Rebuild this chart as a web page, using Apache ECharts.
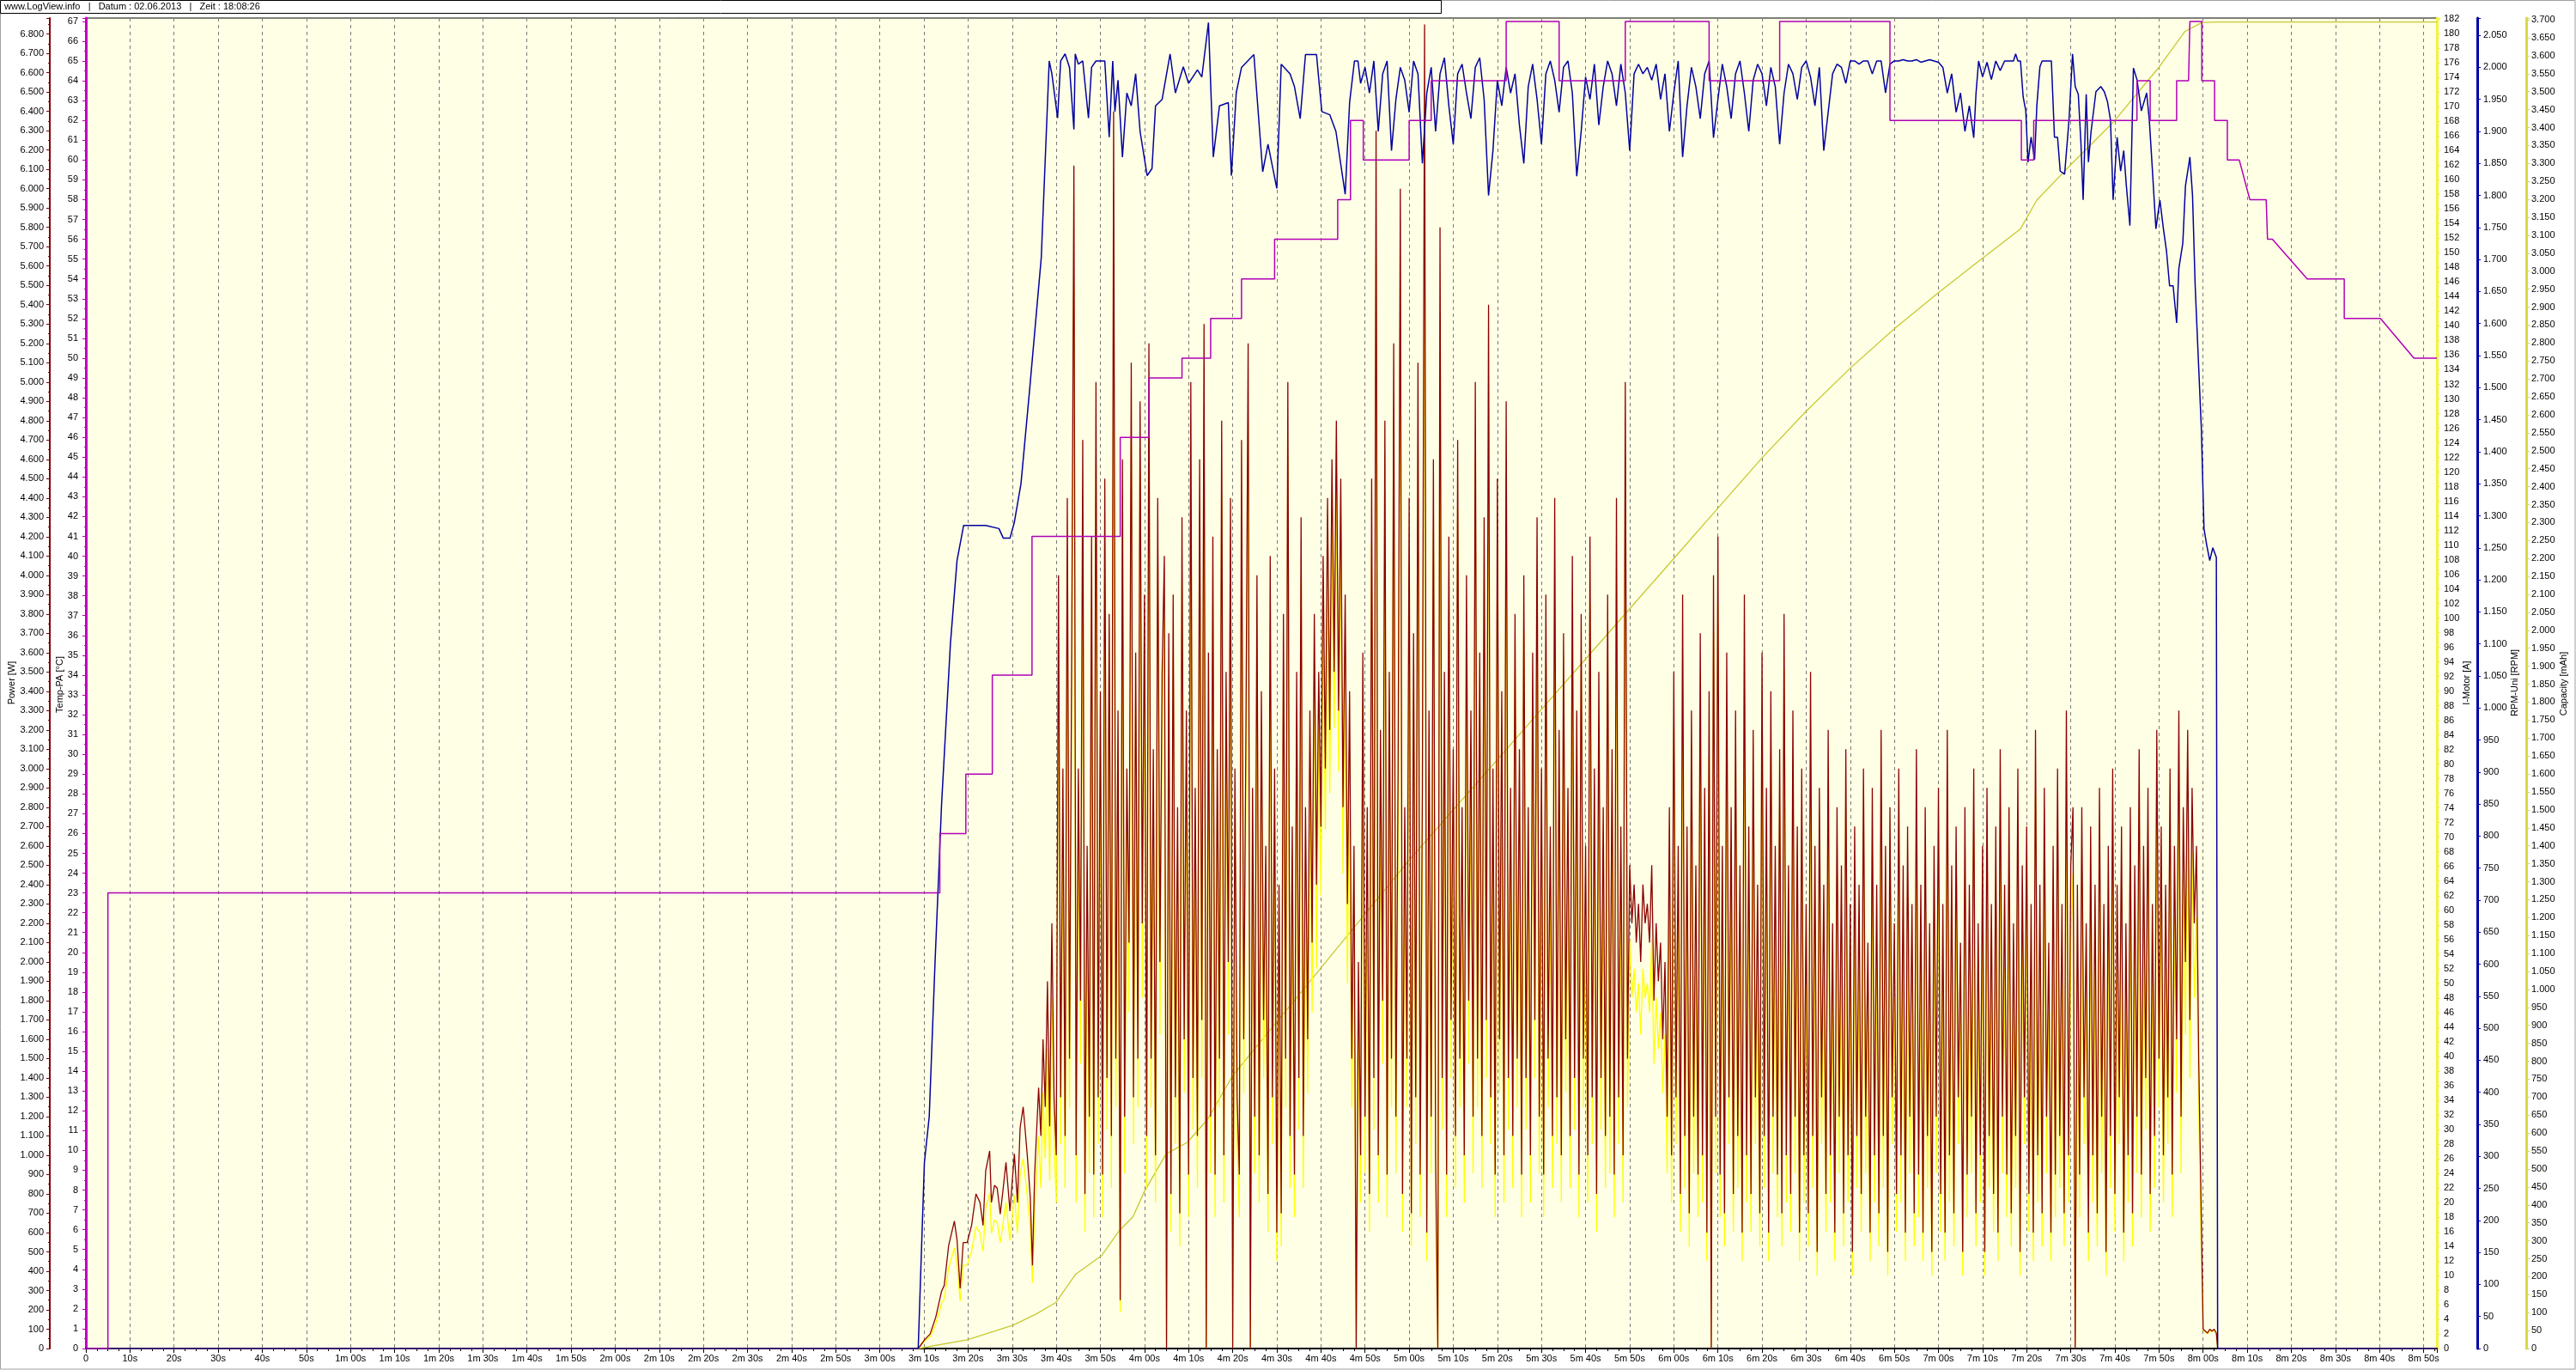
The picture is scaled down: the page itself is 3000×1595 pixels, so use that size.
<!DOCTYPE html>
<html><head><meta charset="utf-8">
<script src="https://cdn.jsdelivr.net/npm/echarts@6/dist/echarts.min.js"></script>
<style>html,body{margin:0;padding:0;background:#fff}#c{width:3000px;height:1595px}</style>
</head><body><div id="c"></div>
<script>
// ---------- DATA (time in seconds) ----------
const xTickLabels = ['0','10s','20s','30s','40s','50s','1m 00s','1m 10s','1m 20s','1m 30s','1m 40s','1m 50s','2m 00s','2m 10s','2m 20s','2m 30s','2m 40s','2m 50s','3m 00s','3m 10s','3m 20s','3m 30s','3m 40s','3m 50s','4m 00s','4m 10s','4m 20s','4m 30s','4m 40s','4m 50s','5m 00s','5m 10s','5m 20s','5m 30s','5m 40s','5m 50s','6m 00s','6m 10s','6m 20s','6m 30s','6m 40s','6m 50s','7m 00s','7m 10s','7m 20s','7m 30s','7m 40s','7m 50s','8m 00s','8m 10s','8m 20s','8m 30s','8m 40s','8m 50s'];

// start-up phase, [time s, value]
const powerStart = [[0,0],[188.7,0],[190.1,44],[191.4,75],[192.7,164],[194,297],[194.6,326],[195.6,533],[196.9,659],[197.5,563],[198.2,311],[198.9,548],[199.8,548],[200.8,637],[201.8,800],[202.7,756],[203.4,637],[204,919],[204.9,1022],[205.3,756],[206,844],[206.6,830],[207.3,696],[207.9,815],[208.6,963],[209.5,711],[210.5,1007],[211.2,756],[211.8,1141],[212.5,1250],[213.4,1007],[214.1,785],[214.6,430],[215.1,904]];
const currentStart = [[0,0],[188.7,0],[190.1,1],[191.4,1.6],[192.7,3.4],[194,6.2],[194.6,6.8],[195.6,11],[196.9,13.8],[197.5,11.7],[198.2,6.5],[198.9,11.4],[199.8,11.4],[200.8,13.3],[201.8,16.7],[202.7,15.8],[203.4,13.3],[204,19.2],[204.9,21.3],[205.3,15.8],[206,17.6],[206.6,17.3],[207.3,14.5],[207.9,17],[208.6,20],[209.5,14.8],[210.5,21],[211.2,15.8],[211.8,23.8],[212.5,26],[213.4,21],[214.1,16.4],[214.6,9],[215.1,18.8]];

// flight phase: samples every 0.5 s from 216.0 s to 483.0 s
const sampleStart = 216.0, sampleStep = 0.5;
const powerW = [
1350,1100,1600,1250,1900,1150,2200,1300,1000,4000,1300,3000,1100,4400,1500,3600,6120,1000,3000,1800,
4700,800,2600,1200,4200,900,5000,1300,3400,900,4500,1400,3800,1100,6400,1500,3300,250,4600,1200,
3000,2100,5100,1300,3600,1500,4900,2200,3900,1100,5200,1500,3100,1000,4400,2000,3500,4100,0,3700,
800,3900,1300,2800,700,4300,1600,3300,900,5000,1400,2900,1100,4600,1700,5300,0,3600,1200,4200,
900,3100,1500,4800,1000,3500,2000,4400,0,3000,1300,900,4700,1600,3200,5200,0,2900,1200,4000,
1000,3400,1700,2600,800,4100,1300,3000,600,2400,700,3800,1500,5000,1100,2700,900,3500,1400,4300,
1100,2800,1600,3300,2100,3800,2400,3500,2700,4100,3000,4400,3200,4600,3500,4800,3300,4500,2800,3900,
2300,3400,1500,2600,0,2000,1000,3600,1200,2800,800,4500,1400,6300,1000,3200,1800,4800,900,3500,
1500,5200,1200,3000,6000,800,2800,1500,4400,700,3700,1300,5100,900,2900,6850,600,3300,1200,4600,
1000,0,5800,1400,3500,900,4200,1700,3100,1100,4700,1500,2800,1000,4000,1800,3300,1200,5000,1500,
3600,1100,4300,1700,5400,1300,3000,900,4500,1600,3400,1000,4900,1400,2900,1100,3800,1500,3100,900,
4000,1400,2800,1000,3600,1700,4300,1200,3000,900,3900,1500,2700,1100,4400,1300,3200,1000,3700,1600,
2900,1100,4100,1400,3300,900,3800,1500,2600,1000,4200,1300,3000,800,3500,1400,2800,1100,3900,1200,
3100,900,4400,1300,2700,1000,5000,1500,2500,2200,2400,2100,2300,2000,2400,2200,2300,2100,2500,1800,
2200,1900,2100,1600,2000,1200,2800,1000,3500,1300,2600,800,3900,1100,2700,700,3300,1200,2500,900,
3700,1000,2900,600,3400,0,4000,1200,4200,900,2600,700,3600,1300,2800,800,3300,1100,2500,600,
3900,1000,2700,800,3200,1300,2400,700,3600,1100,2900,600,3400,1200,2600,900,3100,700,3800,1000,
2500,800,3300,1200,2700,600,3000,1000,2300,700,3500,1100,2600,500,2900,1300,2400,800,3200,1000,
2200,600,2800,1200,2500,700,3100,1000,2300,500,2700,1100,2400,800,3000,1200,2100,600,2900,1000,
2400,700,3200,1100,2600,500,2800,1300,2200,800,3000,1000,2500,600,2700,1200,2300,700,3100,900,
2400,600,2800,1100,2200,500,2600,1200,2900,800,2300,600,3200,1000,2500,700,2700,1300,2100,500,
2800,900,2400,1200,3000,700,2200,1000,2600,500,2900,1100,2300,800,2700,600,3100,1200,2400,900,
2800,700,2200,1100,3000,500,2500,1300,2700,800,2300,600,3200,1000,2400,700,2900,1200,2100,600,
2600,900,3000,1100,2300,700,3300,1000,2500,2800,0,2400,900,2800,1300,2200,600,2700,1000,2400,
700,2900,1200,2300,500,2600,1100,3000,800,2400,1300,2700,600,2200,1000,2800,700,2500,1200,3100,
900,2600,1400,2900,800,2300,1100,3200,1500,2700,1000,2400,1300,3000,900,2600,1600,3300,1200,2800,
2000,3200,1700,2900,2200,2600,1500,800,100,90,80,100,90,100,80];
const currentA = [
29,22,35,26,41,23,48,28,20,98,28,71,22,107,33,88,146,20,71,39,
115,16,59,24,102,18,122,28,81,18,110,30,93,22,146,33,79,5,112,24,
71,46,124,28,88,33,120,48,95,22,127,33,74,20,107,43,85,100,0,90,
16,95,28,65,14,105,35,79,18,122,30,68,22,112,37,129,0,88,24,102,
18,74,33,117,20,85,43,107,0,71,28,18,115,35,76,127,0,68,24,98,
20,81,37,59,16,100,28,71,12,52,14,93,33,122,22,62,18,85,30,105,
22,65,35,79,46,93,52,85,62,100,71,107,76,112,85,117,79,110,65,95,
50,81,33,59,0,43,20,88,24,65,16,110,30,150,20,76,39,117,18,85,
33,127,24,71,146,16,65,33,107,14,90,28,124,18,68,163,12,79,24,112,
20,0,141,30,85,18,102,37,74,22,115,33,65,20,98,39,79,24,122,33,
88,22,105,37,132,28,71,18,110,35,81,20,120,30,68,22,93,33,74,18,
98,30,65,20,88,37,105,24,71,18,95,33,62,22,107,28,76,20,90,35,
68,22,100,30,79,18,93,33,59,20,102,28,71,16,85,30,65,22,95,24,
74,18,107,28,62,20,122,33,56,48,52,46,50,43,52,48,50,46,56,39,
48,41,46,35,43,24,65,20,85,28,59,16,95,22,62,14,79,24,56,18,
90,20,68,12,81,0,98,24,102,18,59,14,88,28,65,16,79,22,56,12,
95,20,62,16,76,28,52,14,88,22,68,12,81,24,59,18,74,14,93,20,
56,16,79,24,62,12,71,20,50,14,85,22,59,10,68,28,52,16,76,20,
48,12,65,24,56,14,74,20,50,10,62,22,52,16,71,24,46,12,68,20,
52,14,76,22,59,10,65,28,48,16,71,20,56,12,62,24,50,14,74,18,
52,12,65,22,48,10,59,24,68,16,50,12,76,20,56,14,62,28,46,10,
65,18,52,24,71,14,48,20,59,10,68,22,50,16,62,12,74,24,52,18,
65,14,48,22,71,10,56,28,62,16,50,12,76,20,52,14,68,24,46,12,
59,18,71,22,50,14,79,20,56,65,0,52,18,65,28,48,12,62,20,52,
14,68,24,50,10,59,22,71,16,52,28,62,12,48,20,65,14,56,24,74,
18,59,30,68,16,50,22,76,33,62,20,52,28,71,18,59,35,79,24,65,
43,76,37,68,48,59,33,16,2.5,2.3,2,2.5,2.3,2.5,2];
const powerEnd = [[483.3,0],[533,0]];
const currentEnd = [[483.3,0],[533,0]];

const tempData = [[0,0],[5,0],[5,23],[193.6,23],[193.6,26],[199.5,26],[199.5,29],[205.5,29],[205.5,34],[214.5,34],[214.5,41],[234.5,41],[234.5,46],[241,46],[241,49],[248.5,49],[248.5,50],[255,50],[255,52],[262,52],[262,54],[269.5,54],[269.5,56],[283.8,56],[283.8,58],[286.7,58],[286.7,62],[289.6,62],[289.6,60],[300,60],[300,62],[305,62],[305,64],[322,64],[322,67],[334,67],[334,64],[349,64],[349,67],[368,67],[368,64],[384,64],[384,67],[409,67],[409,62],[438.8,62],[438.8,60],[441.6,60],[441.6,62],[465,62],[465,64],[468,64],[468,62],[474,62],[474,64],[476.7,64],[477,67],[479.7,67],[479.7,64],[482.6,64],[482.6,62],[485.5,62],[485.5,60],[488.2,60],[490.6,58],[494.3,58],[494.6,56],[495.7,56],[503.6,54],[512,54],[512,52],[520.2,52],[527.8,50],[533,50]];

const rpmData = [[0,0],[188.7,0],[190.1,290],[191.2,362],[192.5,600],[194,850],[196,1100],[197.5,1230],[199,1285],[204,1285],[207,1280],[208,1265],[209.5,1265],[210.5,1290],[212,1350],[214,1500],[216.6,1703],[218.4,2010],[219,1990],[220.3,1921],[221,2010],[222,2021],[223,2000],[224,1903],[224.3,2021],[225,2005],[226,2010],[227.3,1921],[228,2000],[229,2010],[231,2010],[232,1891],[232.8,2010],[233.3,1931],[234,1980],[235,1860],[236,1960],[237,1940],[238,1990],[239,1900],[240.6,1831],[241.7,1842],[242.5,1940],[244,1950],[245.8,2021],[247,1960],[248.8,2001],[250,1975],[252,1996],[253,1985],[254.5,2070],[255.6,1860],[257,1940],[259,1945],[259.7,1831],[260.8,1960],[262,2000],[264.8,2020],[266.8,1837],[268,1880],[270,1811],[271,2005],[273,1990],[274,1970],[275.3,1920],[276.5,2020],[279,2020],[279.6,1975],[280.2,1931],[282,1926],[283.4,1900],[285.5,1802],[286.5,1945],[287.6,2010],[288.4,2010],[289,1975],
[290,2000],[291,1960],[292,2010],[293,1900],[294,1990],[295,2010],[296,1870],[297,1950],[298,2000],[299,1980],[300,1930],[301,2010],[302,1990],[303,1850],[304,1960],[305,2000],[306,1900],[307,1990],[308,2015],[309,1940],[310,1880],[311,1990],[312,2005],[313,1960],[314,1920],[315,2000],[316,2015],[317,1950],[318,1800],[319,1870],[320,1980],[321,1940],[322,2000],[323,1960],[324,1990],[325,1910],[326,1850],[327,1970],[328,2005],[329,1950],[330,1880],[331,1990],[332,2010],[333,1980],[334,1930],[335,2000],[336,2010],[337,1960],[338,1830],[339,1900],[340,1985],[341,1950],[342,2005],[343,1910],[344,1970],[345,2010],[346,1990],[347,1940],[348,2005],[349,1960],[350,1870],[351,1990],[352,2005],[353,1990],[354,2000],[355,1980],[356,2005],[357,1950],[358,1990],[359,1900],[360,1960],[361,2010],[362,1860],[363,1940],[364,2000],[365,1970],[366,1920],[367,1990],[368,2010],[369,1890],[370,1950],[371,2005],[372,1970],[373,1920],[374,1990],[375,2010],[376,1960],[377,1900],[378,1980],[379,2005],[380,1990],[381,1940],[382,2000],[383,1970],[384,1880],[385,1960],[386,2005],[387,1990],[388,1950],[389,2000],[390,2010],[391,1985],[392,1940],[393,2000],[394,1870],[395,1930],[396,1990],[397,2005],[398,2000],[399,1975],[400,2010],[401,2010],[402,2005],[403,2010],[404,2010],[405,1990],[406,2010],[407,2010],[408,1960],[409,2005],[410,2010],[411,2010],[412,2012],[413,2010],[414,2010],[415,2012],[416,2008],[417,2010],[418,2012],[419,2010],[420,2008],[421,2000],[422,1960],[423,1990],[424,1930],[425,1960],[426,1900],[427,1940],[428,1890],
[428.5,1958],[429.1,2010],[430,1985],[431,2008],[432,1981],[433,2010],[434,1995],[435,2010],[436,2010],[437,2010],[437.5,2021],[438,2010],[438.6,2010],[439.2,1954],[439.8,1932],[440.3,1852],[441,1891],[441.8,1856],[442.3,1940],[443,2001],[443.5,2010],[445.6,2010],[446.3,1891],[447,1891],[447.6,1838],[448.6,1833],[449.6,1918],[450.4,2021],[451,1970],[451.7,1958],[452.3,1882],[452.8,1793],[453.5,1958],[454,1852],[454.6,1900],[455.7,1962],[456.8,1970],[457.6,1962],[458.3,1947],[459,1918],[459.6,1793],[460.5,1891],[461.3,1838],[462,1870],[462.6,1815],[463.4,1753],[464.2,1999],[465,1981],[466,1932],[467.2,1960],[467.8,1918],[468.5,1840],[469.3,1748],[470.2,1793],[471,1748],[471.7,1713],[472.4,1659],[473.2,1659],[474,1601],[474.5,1686],[475.4,1726],[476,1815],[477,1860],[477.6,1800],[478.2,1659],[478.9,1547],[479.6,1436],[480.2,1280],[480.8,1255],[481.5,1230],[482.2,1250],[483,1235],[483.3,0],[533,0]];

const capData = [[0,0],[188.7,0],[199.8,24],[210.2,65],[215.4,96],[219.9,128],[224.4,207],[230.3,259],[234.2,327],[237.4,367],[240,438],[244.9,542],[249.7,574],[254.3,638],[260,760],[270,910],[280,1060],[290,1210],[300,1360],[310,1500],[320,1640],[330,1780],[340,1920],[350,2060],[360,2200],[370,2340],[380,2480],[390,2610],[400,2730],[410,2840],[420,2940],[428.2,3019],[438.6,3118],[442.3,3198],[449.8,3294],[459.5,3413],[469.8,3565],[475.9,3668],[479.7,3692],[483,3694],[533,3694]];

// ---------- build series data ----------
function sampled(vals){ return vals.map((v,i)=>[sampleStart + i*sampleStep, v]); }
const powerData = powerStart.concat(sampled(powerW), powerEnd);
const currentData = currentStart.concat(sampled(currentA), currentEnd);

// ---------- CHART ----------
const FONT = 'Liberation Sans, Arial, sans-serif';
const chart = echarts.init(document.getElementById('c'), null, {renderer:'canvas'});
function thousand(v){ v=Math.round(v); if(v>=1000){const r=v%1000; return Math.floor(v/1000)+'.'+String(r).padStart(3,'0');} return String(v);}
function onStep(step, f){ return function(v){ const k=Math.round(v/step); return Math.abs(v-k*step)<1e-6 ? f(k*step) : ''; }; }
function yAx(o){
  return Object.assign({
    type:'value', min:0, splitLine:{show:false},
    axisLine:{show:true, onZero:false, lineStyle:{color:o.color, width:o.lw||2}},
    axisTick:{show:true, length:4, lineStyle:{color:o.color, width:1}},
    minorTick:{show:true, splitNumber:o.minor||2, length:2, lineStyle:{color:o.color, width:1}},
    axisLabel:{color:'#000', fontSize:11, fontFamily:FONT, margin:o.margin||7, formatter:o.fmt, showMaxLabel:false},
  }, o.extra);
}
const option = {
  animation:false,
  backgroundColor:'#ffffff',
  grid:{left:100, right:162, top:21, bottom:25, show:true, backgroundColor:'#FFFFE6', borderColor:'#000', borderWidth:1},
  xAxis:{
    type:'value', min:0, max:533, interval:10,
    axisLine:{show:true, onZero:false, lineStyle:{color:'#000', width:2}},
    axisTick:{show:true, length:5, lineStyle:{color:'#000'}},
    minorTick:{show:true, splitNumber:4, length:3, lineStyle:{color:'#000'}},
    axisLabel:{color:'#000', fontSize:11, fontFamily:FONT, margin:6, showMaxLabel:false,
      formatter:function(v){ const i=Math.round(v/10); return (Math.abs(v-i*10)<1e-6 && xTickLabels[i]!==undefined)?xTickLabels[i]:''; }},
    splitLine:{show:true, lineStyle:{color:'#7a7a7a', width:1, type:[4,4]}}
  },
  yAxis:[
    yAx({color:'#C000C0', lw:3, margin:9, fmt:onStep(1, v=>String(v)), extra:{position:'left', offset:0, max:67.17, interval:1}}),
    yAx({color:'#800000', lw:2, margin:7, fmt:onStep(100, thousand), extra:{position:'left', offset:42, max:6883, interval:100}}),
    yAx({color:'#F4F43C', lw:3, margin:8, fmt:onStep(2, v=>String(v)), extra:{position:'right', offset:0, max:182.15, interval:2}}),
    yAx({color:'#0000A8', lw:3, margin:7, minor:5, fmt:onStep(50, thousand), extra:{position:'right', offset:47, max:2077, interval:50}}),
    yAx({color:'#D8D848', lw:3, margin:6, minor:5, fmt:onStep(50, thousand), extra:{position:'right', offset:104, max:3705, interval:50}})
  ],
  series:[
    {name:'Capacity', type:'line', yAxisIndex:4, data:capData, showSymbol:false, lineStyle:{color:'#C8C832', width:1.3}, z:2},
    {name:'I-Motor', type:'line', yAxisIndex:2, data:currentData, showSymbol:false, lineStyle:{color:'#FFFF00', width:1.3}, z:3},
    {name:'Power', type:'line', yAxisIndex:1, data:powerData, showSymbol:false, lineStyle:{color:'#8B0000', width:1.3}, z:4},
    {name:'RPM', type:'line', yAxisIndex:3, data:rpmData, showSymbol:false, lineStyle:{color:'#0000A0', width:1.5}, z:5},
    {name:'Temp', type:'line', yAxisIndex:0, data:tempData, showSymbol:false, lineStyle:{color:'#B000B8', width:1.5}, z:6}
  ],
  graphic:[
    {type:'rect', shape:{x:0.5, y:0.5, width:1678, height:15}, style:{fill:'#fff', stroke:'#000', lineWidth:1}, z:10},
    {type:'text', x:5, y:8, style:{text:'www.LogView.info   |   Datum : 02.06.2013   |   Zeit : 18:08:26', font:'11px '+FONT, fill:'#000', verticalAlign:'middle'}, z:11},
    {type:'rect', shape:{x:0.5, y:0.5, width:2998.5, height:1593.5}, style:{fill:'none', stroke:'#a0a0a0', lineWidth:1}, z:1, silent:true},
    {type:'text', x:14, y:795, rotation:Math.PI/2, style:{text:'Power [W]', font:'11px '+FONT, fill:'#000', align:'center', verticalAlign:'middle'}},
    {type:'text', x:70, y:797, rotation:Math.PI/2, style:{text:'Temp-PA [°C]', font:'11px '+FONT, fill:'#000', align:'center', verticalAlign:'middle'}},
    {type:'text', x:2873, y:795, rotation:Math.PI/2, style:{text:'I-Motor [A]', font:'11px '+FONT, fill:'#000', align:'center', verticalAlign:'middle'}},
    {type:'text', x:2929, y:795, rotation:Math.PI/2, style:{text:'RPM-Uni [RPM]', font:'11px '+FONT, fill:'#000', align:'center', verticalAlign:'middle'}},
    {type:'text', x:2986, y:796, rotation:Math.PI/2, style:{text:'Capacity [mAh]', font:'11px '+FONT, fill:'#000', align:'center', verticalAlign:'middle'}}
  ]
};
chart.setOption(option);
</script></body></html>
